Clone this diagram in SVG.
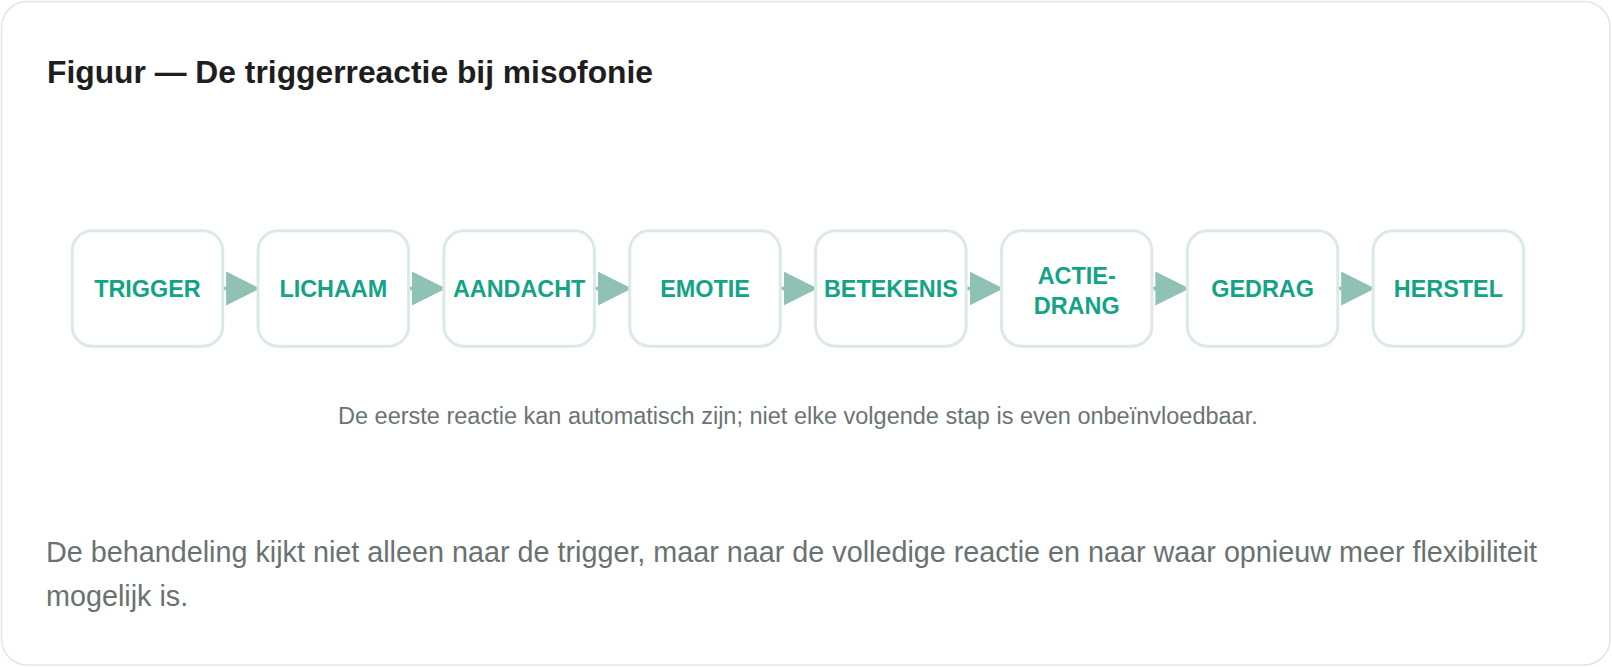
<svg xmlns="http://www.w3.org/2000/svg" width="1612" height="667" viewBox="0 0 1612 667">
  <style>
    .card { fill: #ffffff; stroke: #e1e6e4; stroke-width: 1.5; }
    .title { font-family: "Liberation Sans", Arial, sans-serif; font-weight: bold; font-size: 31.8px; fill: #1e1e1e; }
    .box { fill: #ffffff; stroke: #dce9e4; stroke-width: 3; }
    .lbl { font-family: "Liberation Sans", Arial, sans-serif; font-weight: bold; font-size: 23.4px; fill: #13a386; text-anchor: middle; }
    .conn { stroke: #8fc1b4; stroke-width: 3.5; fill: none; }
    .caption { font-family: "Liberation Sans", Arial, sans-serif; font-size: 23.5px; fill: #6b7472; text-anchor: middle; }
    .body { font-family: "Liberation Sans", Arial, sans-serif; font-size: 28.75px; fill: #6a7270; }
  </style>
  <defs>
    <marker id="arrow" markerUnits="userSpaceOnUse" markerWidth="34" markerHeight="34" viewBox="0 0 33 33" refX="31" refY="16.5" orient="auto">
      <path d="M0,0 L33,16.5 L0,33 Z" fill="#8fc1b4"/>
    </marker>
  </defs>

  <rect class="card" x="1.5" y="1.5" width="1608.5" height="663.5" rx="26"/>

  <text class="title" x="47" y="82.5">Figuur — De triggerreactie bij misofonie</text>

  <g id="connectors">
    <line class="conn" x1="222.7" y1="288.5" x2="258.05" y2="288.5" marker-end="url(#arrow)"/>
    <line class="conn" x1="408.55" y1="288.5" x2="443.9" y2="288.5" marker-end="url(#arrow)"/>
    <line class="conn" x1="594.4" y1="288.5" x2="629.75" y2="288.5" marker-end="url(#arrow)"/>
    <line class="conn" x1="780.25" y1="288.5" x2="815.6" y2="288.5" marker-end="url(#arrow)"/>
    <line class="conn" x1="966.1" y1="288.5" x2="1001.45" y2="288.5" marker-end="url(#arrow)"/>
    <line class="conn" x1="1151.95" y1="288.5" x2="1187.3" y2="288.5" marker-end="url(#arrow)"/>
    <line class="conn" x1="1337.8" y1="288.5" x2="1373.15" y2="288.5" marker-end="url(#arrow)"/>
  </g>

  <g id="node-trigger">
    <rect class="box" x="72.2" y="230.8" width="150.5" height="115.4" rx="20"/>
    <text class="lbl" x="147.45" y="297">TRIGGER</text>
  </g>
  <g id="node-lichaam">
    <rect class="box" x="258.05" y="230.8" width="150.5" height="115.4" rx="20"/>
    <text class="lbl" x="333.3" y="297">LICHAAM</text>
  </g>
  <g id="node-aandacht">
    <rect class="box" x="443.9" y="230.8" width="150.5" height="115.4" rx="20"/>
    <text class="lbl" x="519.15" y="297">AANDACHT</text>
  </g>
  <g id="node-emotie">
    <rect class="box" x="629.75" y="230.8" width="150.5" height="115.4" rx="20"/>
    <text class="lbl" x="705" y="297">EMOTIE</text>
  </g>
  <g id="node-betekenis">
    <rect class="box" x="815.6" y="230.8" width="150.5" height="115.4" rx="20"/>
    <text class="lbl" x="890.85" y="297">BETEKENIS</text>
  </g>
  <g id="node-actiedrang">
    <rect class="box" x="1001.45" y="230.8" width="150.5" height="115.4" rx="20"/>
    <text class="lbl" x="1076.7" y="283.5">ACTIE-</text>
    <text class="lbl" x="1076.7" y="313.5">DRANG</text>
  </g>
  <g id="node-gedrag">
    <rect class="box" x="1187.3" y="230.8" width="150.5" height="115.4" rx="20"/>
    <text class="lbl" x="1262.55" y="297">GEDRAG</text>
  </g>
  <g id="node-herstel">
    <rect class="box" x="1373.15" y="230.8" width="150.5" height="115.4" rx="20"/>
    <text class="lbl" x="1448.4" y="297">HERSTEL</text>
  </g>

  <text class="caption" x="797.9" y="424">De eerste reactie kan automatisch zijn; niet elke volgende stap is even onbeïnvloedbaar.</text>

  <text class="body" x="46" y="562">De behandeling kijkt niet alleen naar de trigger, maar naar de volledige reactie en naar waar opnieuw meer flexibiliteit</text>
  <text class="body" x="46" y="606">mogelijk is.</text>
</svg>
